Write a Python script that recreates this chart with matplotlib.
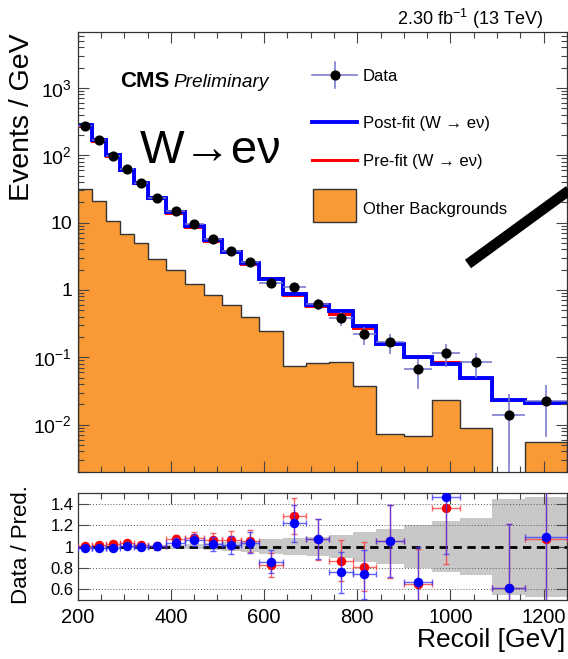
#!/usr/bin/env python3
"""
W -> e nu control region: recoil spectrum with data / prediction ratio
"""

import matplotlib
matplotlib.use('Agg')
import matplotlib.pyplot as plt
from matplotlib.lines import Line2D
from matplotlib.patches import Rectangle
from matplotlib.ticker import MultipleLocator, LogLocator, NullFormatter, FuncFormatter, FixedLocator
import numpy as np

# --- values --------------------------------------------------------------
bin_edges = [200, 230, 260, 290, 320, 350, 390, 430, 470, 510, 550, 590,
             640, 690, 740, 790, 840, 900, 960, 1020, 1090, 1160, 1250]

data = [274, 168, 98.4, 62, 39, 23.4, 14.9, 9.4, 5.65, 3.83, 2.58, 1.26,
        1.10, 0.62, 0.38, 0.22, 0.166, 0.0666, 0.115, 0.085, 0.0141, 0.0222]
data_err_lo = [3.0, 2.4, 1.8, 1.4, 1.1, 0.77, 0.61, 0.49, 0.38, 0.31, 0.26, 0.16,
               0.15, 0.11, 0.087, 0.066, 0.053, 0.033, 0.043, 0.035, 0.0141, 0.0157]
data_err_hi = [3.0, 2.4, 1.8, 1.4, 1.1, 0.77, 0.61, 0.49, 0.38, 0.31, 0.26, 0.16,
               0.15, 0.11, 0.087, 0.066, 0.053, 0.027, 0.043, 0.030, 0.0141, 0.0160]

postfit = [280, 171, 100, 61, 38.6, 23.1, 14.3, 8.8, 5.45, 3.65, 2.49, 1.45,
           0.88, 0.59, 0.495, 0.293, 0.157, 0.100, 0.079, 0.049, 0.0232, 0.0210]
prefit = [271, 165, 96, 59.9, 38.4, 23.2, 13.9, 8.67, 5.32, 3.61, 2.45, 1.52,
          0.856, 0.58, 0.437, 0.27, 0.158, 0.102, 0.084, 0.050, 0.0231, 0.0207]
other_bkg = [31.3, 21, 10.7, 6.8, 4.9, 2.9, 1.98, 1.22, 0.85, 0.6, 0.40, 0.246,
             0.075, 0.082, 0.084, 0.038, 0.0072, 0.0068, 0.023, 0.0089, 0.0, 0.0055]

ratio_prefit = [1.01, 1.02, 1.025, 1.035, 1.015, 1.01, 1.07, 1.084, 1.062, 1.062, 1.053,
                0.83, 1.285, 1.068, 0.87, 0.81, 1.05, 0.65, 1.363, np.nan, 0.61, 1.07]
ratio_postfit = [0.99, 0.99, 0.985, 1.005, 1.0, 1.005, 1.037, 1.062, 1.025, 1.016, 1.037,
                 0.86, 1.218, 1.07, 0.76, 0.74, 1.055, 0.665, 1.465, np.nan, 0.613, 1.093]
ratio_err = [0.011, 0.015, 0.018, 0.023, 0.03, 0.033, 0.042, 0.053, 0.068, 0.082, 0.10,
             0.11, 0.17, 0.19, 0.19, 0.23, 0.34, 0.33, 0.53, np.nan, 0.6, 1.0]
band_unc = [0.008, 0.008, 0.009, 0.01, 0.012, 0.015, 0.02, 0.025, 0.03, 0.04, 0.05,
            0.07, 0.08, 0.087, 0.11, 0.14, 0.165, 0.2, 0.24, 0.265, 0.45, 0.47]

legend_labels = ['Data', 'Post-fit (W \u2192 e\u03bd)', 'Pre-fit (W \u2192 e\u03bd)', 'Other Backgrounds']

FONT = 'Liberation Sans'
ORANGE = '#f99a36'
DATA_ERR = '#7272cc'
W, H = 568, 659


def fx(px):
    return px / W


def fy(py):
    return 1 - py / H


def log_label(v, pos):
    e = int(round(np.log10(v)))
    if e == 0:
        return '1'
    if e == 1:
        return '10'
    return r'$10^{%d}$' % e


def style_axis(ax):
    ax.tick_params(which='both', direction='in', top=True, right=True, width=0.8, color='#444444')
    ax.tick_params(which='major', length=8)
    ax.tick_params(which='minor', length=4)
    ax.xaxis.set_major_locator(MultipleLocator(200))
    ax.xaxis.set_minor_locator(MultipleLocator(50))
    for s in ax.spines.values():
        s.set_linewidth(0.9)
        s.set_color('#333333')


def draw_legend(fig):
    """ROOT-like legend, entries placed in figure pixels"""
    tf = fig.transFigure
    x0, x1, xt = 312, 357, 363
    xm = 0.5 * (x0 + x1)
    rows = [75, 122, 160, 208]
    # Data
    fig.add_artist(Line2D([fx(x0), fx(x1)], [fy(rows[0])] * 2, transform=tf, color=DATA_ERR, lw=1.1))
    fig.add_artist(Line2D([fx(xm)] * 2, [fy(rows[0] - 13), fy(rows[0] + 13)], transform=tf,
                          color=DATA_ERR, lw=1.1))
    fig.add_artist(Line2D([fx(xm)], [fy(rows[0])], transform=tf, marker='o', color='black',
                          markersize=6.3, ls='none'))
    # fits
    fig.add_artist(Line2D([fx(x0), fx(x1)], [fy(rows[1])] * 2, transform=tf, color='blue', lw=2.8))
    fig.add_artist(Line2D([fx(x0), fx(x1)], [fy(rows[2])] * 2, transform=tf, color='red', lw=2.2))
    # background box
    fig.add_artist(Rectangle((fx(313), fy(222)), fx(356) - fx(313), fy(189) - fy(222), transform=tf,
                             facecolor=ORANGE, edgecolor='#333333', lw=1.0))
    for y, lab in zip(rows, legend_labels):
        fig.text(fx(xt), fy(y), lab, ha='left', va='center_baseline', fontsize=12)


def main():
    plt.rcParams['font.family'] = [FONT, 'DejaVu Sans']
    plt.rcParams['mathtext.fontset'] = 'custom'
    plt.rcParams['mathtext.rm'] = FONT
    plt.rcParams['mathtext.it'] = FONT + ':italic'
    plt.rcParams['mathtext.bf'] = FONT + ':bold'

    edges = np.array(bin_edges, dtype=float)
    centers = 0.5 * (edges[1:] + edges[:-1])
    half = 0.5 * np.diff(edges)

    fig = plt.figure(figsize=(W / 100, H / 100), dpi=100)
    ax = fig.add_axes([0.1368, 0.2842, 0.8614, 0.6668])
    axr = fig.add_axes([0.1368, 0.0895, 0.8614, 0.1619])

    # ---- main panel
    bkg = np.maximum(np.array(other_bkg), 1e-4)
    ax.stairs(bkg, edges, baseline=1e-4, fill=True, color=ORANGE, lw=0)
    ax.stairs(bkg, edges, baseline=1e-4, fill=False, color='#333333', lw=1.0)
    ax.stairs(prefit, edges, baseline=None, color='red', lw=2.2)
    ax.stairs(postfit, edges, baseline=None, color='blue', lw=2.8)
    ax.errorbar(centers, data, xerr=half, yerr=[data_err_lo, data_err_hi],
                fmt='o', color='black', ecolor=DATA_ERR, elinewidth=1.1,
                capsize=0, markersize=6.3, zorder=5)

    ax.set_yscale('log')
    ax.set_xlim(200, 1250)
    ax.set_ylim(0.002, 6700)
    style_axis(ax)
    ax.yaxis.set_major_locator(FixedLocator([1e-2, 1e-1, 1, 10, 100, 1000]))
    ax.yaxis.set_minor_locator(LogLocator(base=10, subs=np.arange(2, 10), numticks=20))
    ax.yaxis.set_major_formatter(FuncFormatter(log_label))
    ax.yaxis.set_minor_formatter(NullFormatter())
    ax.tick_params(axis='y', labelsize=14, pad=4)
    ax.tick_params(axis='x', labelbottom=False)

    draw_legend(fig)

    # ---- ratio panel
    axr.stairs(1 + np.array(band_unc), edges, baseline=1 - np.array(band_unc),
               fill=True, color='#c8c8c8', lw=0)
    for yv in [0.6, 0.8, 1.2, 1.4]:
        axr.axhline(yv, color='#555555', lw=0.7, ls=(0, (1, 2)))
    axr.axhline(1.0, color='black', lw=2.0, ls=(0, (3, 2)))
    axr.errorbar(centers, ratio_prefit, xerr=half, yerr=ratio_err, fmt='o', color='red',
                 ecolor=(1, 0.2, 0.2, 0.75), elinewidth=1.0, capsize=2.5, capthick=1.0,
                 markersize=5.8, zorder=4)
    axr.errorbar(centers, ratio_postfit, xerr=half, yerr=ratio_err, fmt='o', color='blue',
                 ecolor=(0.2, 0.2, 1, 0.75), elinewidth=1.0, capsize=2.5, capthick=1.0,
                 markersize=5.8, zorder=5)
    axr.set_xlim(200, 1250)
    axr.set_ylim(0.5, 1.5)
    style_axis(axr)
    axr.yaxis.set_major_locator(FixedLocator([0.6, 0.8, 1.0, 1.2, 1.4]))
    axr.yaxis.set_major_formatter(FuncFormatter(lambda v, p: '%g' % v))
    axr.tick_params(axis='y', labelsize=12, pad=3)
    axr.tick_params(axis='x', labelsize=14.5, pad=6)

    # ---- texts
    fig.text(fx(22), fy(33), 'Events / GeV', rotation=90, ha='center', va='top', fontsize=20.5)
    fig.text(fx(22), fy(485), 'Data / Pred.', rotation=90, ha='center', va='top', fontsize=16)
    fig.text(fx(565), fy(647), 'Recoil [GeV]', ha='right', va='baseline', fontsize=19)
    fig.text(fx(543), fy(25), r'2.30 fb$^{-1}$ (13 TeV)', ha='right', va='baseline', fontsize=13)
    fig.text(fx(120), fy(87), 'CMS', ha='left', va='baseline', fontsize=16, fontweight='bold')
    fig.text(fx(173), fy(87), 'Preliminary', ha='left', va='baseline', fontsize=13.7, style='italic')
    fig.text(fx(140), fy(163), 'W\u2192e\u03bd', ha='left', va='baseline', fontsize=34)

    fig.add_artist(Line2D([fx(468), fx(575)], [fy(264), fy(186)], transform=fig.transFigure,
                          color='black', lw=7.5, solid_capstyle='butt'))

    plt.savefig('out.png', dpi=100)
    plt.close()


if __name__ == "__main__":
    main()
